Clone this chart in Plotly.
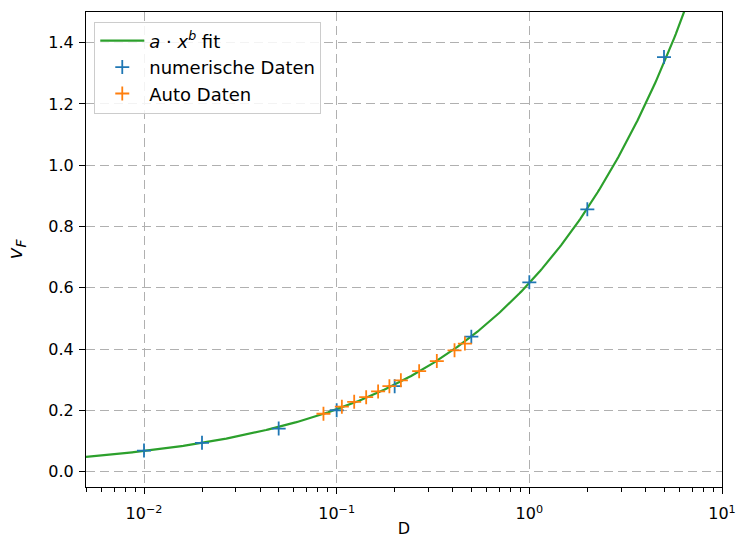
import numpy as np
import plotly.graph_objects as go

# numerical data
num_x = [0.01, 0.02, 0.05, 0.1, 0.2, 0.5, 1.0, 2.0, 5.0]
num_y = [0.0687, 0.094, 0.1407, 0.2005, 0.279, 0.4406, 0.618, 0.856, 1.353]

# "Auto" data
auto_x = [0.0854, 0.1064, 0.1233, 0.1423, 0.1641, 0.1878, 0.2154, 0.268, 0.331, 0.409, 0.463]
auto_y = [0.189, 0.212, 0.228, 0.243, 0.262, 0.279, 0.298, 0.328, 0.361, 0.396, 0.418]

# power-law fit a*x^b from the data
allx = np.array(num_x + auto_x)
ally = np.array(num_y + auto_y)
b_fit, loga = np.polyfit(np.log(allx), np.log(ally), 1)
a_fit = np.exp(loga)
fit_x = np.geomspace(0.005, 10, 400)
fit_y = a_fit * fit_x ** b_fit

BLUE = "#1f77b4"
ORANGE = "#ff7f0e"
GREEN = "#2ca02c"
FONT = "DejaVu Sans"

fig = go.Figure()
fig.add_trace(go.Scatter(
    x=fit_x, y=fit_y, mode="lines", name="<i>a</i> · <i>x</i><sup><i>b</i></sup> fit",
    line=dict(color=GREEN, width=2.2)))
fig.add_trace(go.Scatter(
    x=num_x, y=num_y, mode="markers", name="numerische Daten",
    marker=dict(symbol="cross-thin", size=10, color=BLUE,
                line=dict(color=BLUE, width=1.8))))
fig.add_trace(go.Scatter(
    x=auto_x, y=auto_y, mode="markers", name="Auto Daten",
    marker=dict(symbol="cross-thin", size=10, color=ORANGE,
                line=dict(color=ORANGE, width=1.8))))

minor_vals = [m * 10.0 ** e for e in range(-3, 1) for m in range(2, 10)]

fig.update_layout(
    width=739, height=538,
    margin=dict(l=86, r=17, t=12, b=51, autoexpand=False),
    paper_bgcolor="white", plot_bgcolor="white",
    font=dict(family=FONT, size=16, color="black"),
    showlegend=True,
    legend=dict(x=0.013, y=0.98, xanchor="left", yanchor="top",
                bgcolor="rgba(255,255,255,0.85)", bordercolor="#cccccc",
                borderwidth=1, font=dict(family=FONT, size=18),
                itemwidth=44, tracegroupgap=0),
    xaxis=dict(
        type="log", range=[np.log10(0.005), 1], automargin=False,
        tickvals=[0.01, 0.1, 1, 10],
        ticktext=["10<sup>−2</sup>", "10<sup>−1</sup>", "10<sup>0</sup>", "10<sup>1</sup>"],
        tickfont=dict(family=FONT, size=16), ticklabelstandoff=6,
        ticks="outside", ticklen=6, tickwidth=1.1, tickcolor="black",
        showline=True, linecolor="black", linewidth=1.2, mirror=True,
        showgrid=True, gridcolor="#b0b0b0", gridwidth=1.2, griddash="9px,5px",
        zeroline=False,
        minor=dict(tickvals=minor_vals, ticks="outside", ticklen=3.5,
                   tickwidth=0.9, tickcolor="black", showgrid=False),
        title=dict(text="D", font=dict(family=FONT, size=16), standoff=12),
    ),
    yaxis=dict(
        range=[-0.05, 1.5], automargin=False,
        tickvals=[0.0, 0.2, 0.4, 0.6, 0.8, 1.0, 1.2, 1.4],
        ticktext=["0.0", "0.2", "0.4", "0.6", "0.8", "1.0", "1.2", "1.4"],
        tickfont=dict(family=FONT, size=16), ticklabelstandoff=2,
        ticks="outside", ticklen=6, tickwidth=1.1, tickcolor="black",
        showline=True, linecolor="black", linewidth=1.2, mirror=True,
        showgrid=True, gridcolor="#b0b0b0", gridwidth=1.2, griddash="9px,5px",
        zeroline=False,
        title=dict(text="<i>v</i><sub><i>F</i></sub>", font=dict(family=FONT, size=20), standoff=20),
    ),
)

fig.write_html("out.html")
